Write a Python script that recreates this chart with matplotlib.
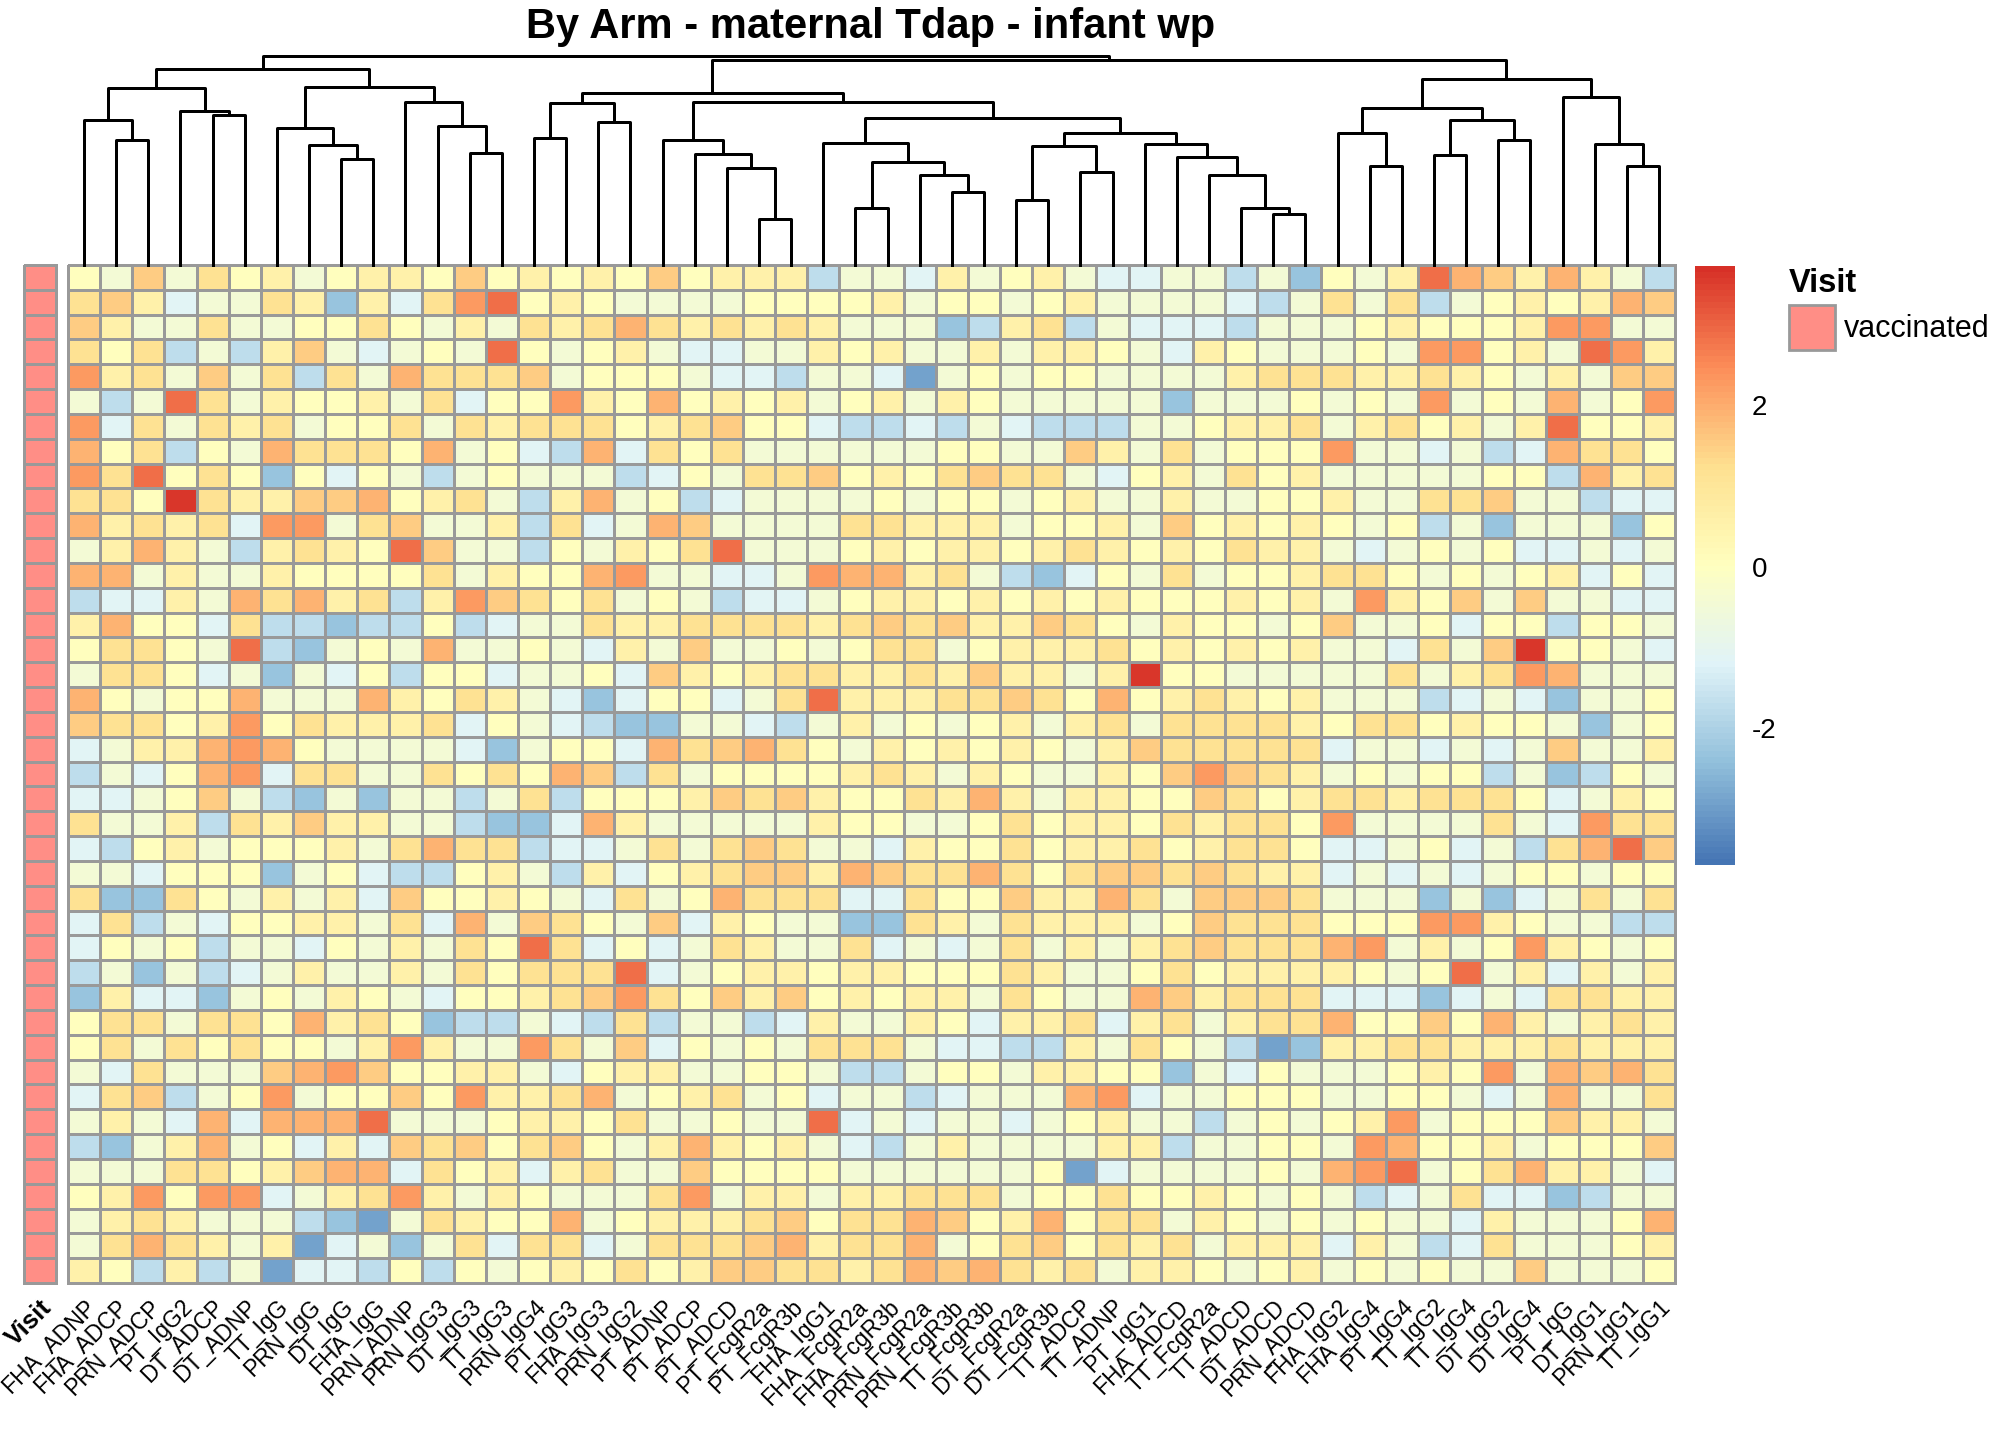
import numpy as np
import matplotlib
matplotlib.use("Agg")
import matplotlib.pyplot as plt
from matplotlib.colors import LinearSegmentedColormap, ListedColormap
from matplotlib.patches import Patch

plt.rcParams['font.family'] = ['Liberation Sans', 'DejaVu Sans']
plt.rcParams['axes.unicode_minus'] = False

#########################################################
# data
#########################################################
title = "By Arm - maternal Tdap - infant wp"

col_labels = ["FHA_ADNP", "FHA_ADCP", "PRN_ADCP", "PT_IgG2", "DT_ADCP", "DT_ADNP",
              "TT_IgG", "PRN_IgG", "DT_IgG", "FHA_IgG", "PRN_ADNP", "PRN_IgG3",
              "DT_IgG3", "TT_IgG3", "PRN_IgG4", "PT_IgG3", "FHA_IgG3", "PRN_IgG2",
              "PT_ADNP", "PT_ADCP", "PT_ADCD", "PT_FcgR2a", "PT_FcgR3b", "FHA_IgG1",
              "FHA_FcgR2a", "FHA_FcgR3b", "PRN_FcgR2a", "PRN_FcgR3b", "TT_FcgR3b",
              "DT_FcgR2a", "DT_FcgR3b", "TT_ADCP", "TT_ADNP", "PT_IgG1", "FHA_ADCD",
              "TT_FcgR2a", "TT_ADCD", "DT_ADCD", "PRN_ADCD", "FHA_IgG2", "FHA_IgG4",
              "PT_IgG4", "TT_IgG2", "TT_IgG4", "DT_IgG2", "DT_IgG4", "PT_IgG",
              "DT_IgG1", "PRN_IgG1", "TT_IgG1"]

# one letter per cell = colour level seen in the cell, mapped to a z value
level_codes = "abcdefghijklm"
level_values = [-2.9, -2.3, -1.75, -1.15, -0.5, 0.05, 0.6, 1.15, 1.5, 1.9, 2.25, 2.85, 3.6]

# 41 samples x 50 features, groups of 5 columns
cell_rows = [
    "feieh fgefg gfifg fgfif gggce  edgef gedde ecebf eglji gjgec",
    "higde ehgbg dhklf gfeee effff  geffe fgeee edceh ehcef gfgji",
    "igeeh eeffh fegeh ghjhg hghge  eebcg hcedd dceee fgfff gkkee",
    "hfhce cgied efelf efged deegf  geege ggfed gfeee fekkf gelkg",
    "kghei ehche jhhhi efffe ddcee  daefe ffeee eghhh gghgf egeii",
    "ecelh egffg ehdff kgfjf gfgef  gegfe eeeeb eeefe fekef ejefk",
    "kdheh gheff hehgh hhfgh iffdc  cdced cccee fgghe ghfge glffg",
    "jfhcf ejhhh fjefd cjdhf heeee  eeffe eigeh efffk eedec djhhf",
    "khlfh fbfdf ecefe eecdf ehhif  gfhih hedfg ehfge eeeef fcjgh",
    "hhfmh ggiij fghec gjefc deeee  feffe fgeeg eeffg eehhi eecdd",
    "jghgh dkkeh ieegc hdeji eeeeh  hggge ffgei fgfgf efceb eeebf",
    "egjge cghgf lieec fegfh leeef  gfggf ghgfg fhgge defef ddede",
    "jjege egfff fhegf fjkee ddekj  jghec bdfeh effgh hfefe fgdfd",
    "cddge jhjgh cgkih fhefe cddef  ggfgf gfgff fgfge kgfie ieedd",
    "gjffd hccbc cfcde ehggh hhhgh  ihigg ihfeg ffefi eefdf fcffe",
    "fhhfe lcbef ejeef edgei eefef  hhefg gghfg fgfge edhei mffed",
    "ehhfd ebedf cffde efdig fghhg  ghgig gegmf feeee ehegh kjeee",
    "jfeff jeeej gfhge dbdff dehlg  gghhi hfjfg hgfge eecde dbeef",
    "ihhfg kfhgg ghdfe dcbbe edceg  efefg egheh hhhgf hhfgf febef",
    "deggj kjfee eedbe ffdjh ijhfe  gfgfg fegih hhhhd eeded eieeg",
    "cedfj kdhhe ehfhf jiche ffffg  hgegf eegfi kihge feffc ebcfe",
    "ddefi ecbeb eeceh cfffg ihigf  fhgjg eggff ihfgh hghhh fdegf",
    "heegc hgigg eecbb djgee eeegf  feefh fggfh ghhfk eeeeh edkhh",
    "dcfge fffge hjhhc ddehe hihee  dgffh fgghf ghhfd defde chjli",
    "eedff fbefd ccfge cgdfg hiigj  ihhjh fhiih ihggd edede ffeff",
    "hbbhf egegd iffgf edhef jhhhd  dhffi ggjhe iiihe eebeb deheh",
    "dhced ffgge hdjei hfeid gfeeb  bhgeh gggef ihhhf ffkkg feecc",
    "dfefc eedfe gehfl hdfde hgeeh  dedeh egegh ihhhj kegef kgfef",
    "cebec degee gehfh hhlde fggfg  gfffh geefh fgggg fefle gdgeg",
    "bgddb efegf edffg hikhf igifg  fggeh feeji ghhhd ddbde dhhgg",
    "fhheh hfjgh fbcce dchce ecdge  egfdg ghdgh eghhj ffifj geghg",
    "fhehf hffeg kgeek heidf efehh  heddc cgehf ecabg ghhgg ghggg",
    "edhee eijki ffgge dfgge effec  ceffe ggffb edfee efgfk ejijh",
    "dhice fkeff ifkgg hjefg hefde  ecdee ejkde efffe effed ejeeh",
    "egedj djjjl eeefg gfhee feeld  edeed efgee cefef gkeff figge",
    "cbegj efdgd ihifh ifegj gfged  cegee eeggc eeffe kjffg efffi",
    "eeehh fgijj dhfgd gheei ffffe  eeeee fadee eefej klefh jgged",
    "fgkfk kdegh kgegf eeehk eggeg  ghhhe ffhff gfefe cdehd dbcee",
    "eghge eecba ehgff jefgg ghifh  hjifg jfhhe gfefe feedg eeefj",
    "ehjhg egade behdh hdehh hijgh  hjefh ifhgh egggd gecdh eeefg",
    "gfcgc eaddc fcfef gfhfg iihhg  hjijh ghegg fefge fefee ieeef",
]

# column dendrogram as a linkage table: ids 0-49 are columns, 50+k is merge k
merge_left = [1, 0, 4, 3, 51, 8, 7, 6, 12, 11, 10, 57, 54,
              14, 16, 63, 21, 20, 19, 18, 24, 27, 26, 70, 23,
              29, 31, 75, 37, 36, 35, 34, 33, 77, 74, 69, 65,
              40, 39, 42, 44, 89, 88, 48, 47, 46, 92, 86, 62]
merge_right = [2, 50, 5, 52, 53, 9, 55, 56, 13, 58, 59, 60, 61,
               15, 17, 64, 22, 66, 67, 68, 25, 28, 71, 72, 73,
               30, 32, 76, 38, 78, 79, 80, 81, 82, 83, 84, 85,
               41, 87, 43, 45, 90, 91, 49, 93, 94, 95, 96, 97]
merge_height = [125, 145, 150, 154, 177, 106.3, 120, 137.3, 111.7, 139, 162.7, 177.7, 195.7,
                127.3, 143.3, 161.7, 45.7, 96.7, 110.7, 125, 56.7, 72.7, 90, 102.7, 122.3,
                65, 92.7, 119, 51, 57.3, 90, 107.7, 120.7, 132, 146.7, 162.7, 172.3,
                99, 131.7, 109.7, 125, 145, 156.7, 99, 120.7, 167.7, 185.7, 205, 209]

visit_name = "Visit"
visit_level = "vaccinated"
visit_color = "#FF8E86"

vmin, vmax = -3.69, 3.72
cbar_ticks = [-2, 0, 2]
palette = ["#4575B4", "#91BFDB", "#E0F3F8", "#FFFFBF", "#FEE090", "#FC8D59", "#D73027"]

#########################################################
# build matrix
#########################################################
lookup = dict(zip(level_codes, level_values))
mat = np.array([[lookup[ch] for ch in row.replace(" ", "")] for row in cell_rows])
n_rows, n_cols = mat.shape
cmap = LinearSegmentedColormap.from_list("pheat", palette, N=100)
grid_col = "#999999"

W, H = 2016, 1440
fig = plt.figure(figsize=(W / 100, H / 100), dpi=100)


def box(x0, y0, x1, y1):
    # pixel box (top-left origin) -> figure fraction
    return [x0 / W, 1 - y1 / H, (x1 - x0) / W, (y1 - y0) / H]


#########################################################
# heatmap
#########################################################
ax = fig.add_axes(box(68, 265, 1675, 1283))
mesh = ax.pcolormesh(mat, cmap=cmap, vmin=vmin, vmax=vmax,
                     edgecolors=grid_col, linewidth=1.8)
mesh.set_clip_on(False)
ax.set_xlim(0, n_cols)
ax.set_ylim(n_rows, 0)
for s in ax.spines.values():
    s.set_visible(False)
ax.set_yticks([])
ax.set_xticks(np.arange(n_cols) + 0.5)
ax.set_xticklabels(col_labels, rotation=45, ha="right", va="top",
                   rotation_mode="anchor", fontsize=16.5)
ax.tick_params(axis="x", length=0, pad=9)

# annotation column
ax_a = fig.add_axes(box(23.5, 265, 56, 1283))
am = ax_a.pcolormesh(np.zeros((n_rows, 1)), cmap=ListedColormap([visit_color]),
                     edgecolors=grid_col, linewidth=1.8)
am.set_clip_on(False)
ax_a.set_xlim(0, 1)
ax_a.set_ylim(n_rows, 0)
for s in ax_a.spines.values():
    s.set_visible(False)
ax_a.set_yticks([])
ax_a.set_xticks([0.5])
ax_a.set_xticklabels([visit_name], rotation=45, ha="right", va="top",
                     rotation_mode="anchor", fontsize=18.5, fontweight="bold")
ax_a.tick_params(axis="x", length=0, pad=9)

#########################################################
# dendrogram
#########################################################
ax_d = fig.add_axes(box(68, 50, 1675, 265))
ax_d.set_xlim(0, n_cols)
ax_d.set_ylim(0, 215)
ax_d.axis("off")
pos = {i: i + 0.5 for i in range(n_cols)}
hgt = {i: 0.0 for i in range(n_cols)}
for k, (l, r, h) in enumerate(zip(merge_left, merge_right, merge_height)):
    ax_d.plot([pos[l], pos[l], pos[r], pos[r]], [hgt[l], h, h, hgt[r]],
              color="black", lw=2.16, clip_on=False)
    pos[n_cols + k] = (pos[l] + pos[r]) / 2
    hgt[n_cols + k] = h

#########################################################
# colour bar, legend, title
#########################################################
cax = fig.add_axes(box(1695, 266, 1735, 865))
cb = fig.colorbar(mesh, cax=cax, ticks=cbar_ticks)
cb.outline.set_visible(False)
cax.tick_params(length=0, labelsize=20, pad=12)

handles = [Patch(facecolor=visit_color, edgecolor=grid_col, linewidth=2, label=visit_level)]
fig.legend(handles=handles, title=visit_name, loc="upper left",
           bbox_to_anchor=(1789 / W, 1 - 268 / H), frameon=False, fontsize=22,
           title_fontproperties={"weight": "bold", "size": 23.5},
           handlelength=1.5, handleheight=1.88, handletextpad=0.3,
           labelspacing=0.2, borderpad=0, borderaxespad=0, alignment="left")

fig.text(871 / W, 1 - 38 / H, title, ha="center", va="baseline",
         fontsize=30, fontweight="bold")

fig.savefig("out.png", dpi=100)
